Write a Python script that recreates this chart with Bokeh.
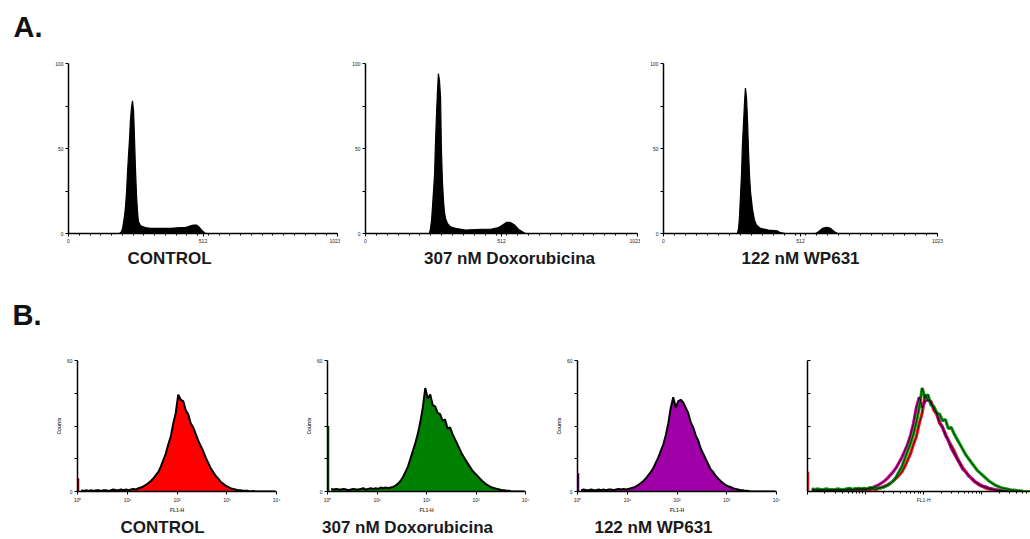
from bokeh.plotting import figure
from bokeh.layouts import column, row
from bokeh.models import FixedTicker, Range1d
from bokeh.core.properties import value
from bokeh.embed import file_html
from bokeh.resources import INLINE

FONT = "Liberation Sans"

# ---------------- Panel A: DNA content histograms (channel 0-1000, % of axis) -------------
a_titles = ["CONTROL", "307 nM Doxorubicina", "122 nM WP631"]
a_label_px = [169, 509, 800]

a1_ch = [190, 197, 201, 204, 208, 212, 216, 219, 223, 227, 230, 234, 238, 242, 245, 249,
         253, 257, 260, 268, 286, 305, 342, 379, 416, 435, 454, 465, 476, 487, 498, 509]
a1_cnt = [0, 1, 3, 6, 10, 16, 25, 35, 46, 56, 66, 74, 78, 72, 58, 38,
          22, 12, 7, 4.5, 3.5, 3, 3, 3, 3.5, 3.5, 4.5, 5, 5, 3.5, 1.5, 0]

a2_ch = [235, 239, 243, 246, 250, 254, 257, 261, 265, 268, 272, 276, 279, 283, 287, 290,
         294, 301, 312, 331, 368, 423, 460, 489, 504, 518, 533, 548, 562, 577, 588]
a2_cnt = [0, 3, 8, 15, 25, 35, 52, 70, 85, 94, 90, 80, 50, 30, 19, 13,
          9, 6, 4, 3, 2, 2.5, 2.5, 3.5, 5, 6.5, 6.5, 5, 2.5, 1, 0]

a3_ch = [270, 274, 277, 281, 285, 288, 292, 296, 299, 303, 307, 310, 314, 318, 325, 332,
         339, 354, 383, 416, 427, 445, 555, 566, 580, 595, 610, 624, 635]
a3_cnt = [0, 3, 9, 22, 36, 52, 65, 78, 85.5, 80, 65, 50, 34, 24, 14, 8,
          5, 3, 2, 1.5, 0.5, 0, 0, 1, 3, 3.7, 3, 1, 0]

# ---------------- Panel B: log-scale fluorescence histograms (bins of 0.05 decade) --------
b_titles = ["CONTROL", "307 nM Doxorubicina", "122 nM WP631"]
b_label_px = [162, 407, 653]
b_colors = ["#ff0000", "#008000", "#a000a8"]
b_overlay_colors = ["#ff1a1a", "#14a014", "#d0009c"]
BIN_W = 0.05  # decade per bin, 80 bins from 10^0 to 10^4

b_control = [10, 1, 0.5, 1, 0.5, 1, 0.5, 1, 1, 0.5,
             1, 1, 0.5, 1, 1.5, 1, 1, 1.5, 1, 1.5,
             1, 1.5, 2, 1.5, 2.5, 3, 4, 5, 6.5, 8,
             10, 12.5, 15, 19, 24, 29, 36, 42, 52, 60,
             74, 70, 69, 62, 59, 52, 49, 44, 39, 35,
             31, 26, 22, 18, 15, 12, 10, 7.5, 6, 4.5,
             3.5, 2.5, 2, 1.5, 1, 1, 0.5, 0.5, 0.5, 0,
             0.5, 0, 0, 0, 0, 0, 0, 0, 0, 0]

b_doxo = [50, 2, 1.5, 2, 1.5, 1.5, 2, 1.5, 1, 1.5,
          2, 1.5, 1.5, 2, 2.5, 1.5, 2, 2.5, 2, 2.5,
          2, 3, 2.5, 3, 2.5, 3, 3.5, 4.5, 6, 8,
          11, 15, 19, 25, 31, 37, 44, 53, 64, 79,
          71, 74, 66, 65, 60, 59, 54, 55, 48, 49,
          44, 40, 36, 32, 28, 25, 22, 19, 16, 14,
          12, 10, 8, 6.5, 5, 4, 3, 2.5, 2, 1.5,
          1, 1, 0.5, 0.5, 0, 0, 0, 0, 0, 0]

b_wp631 = [14, 1, 1.5, 1, 1, 1.5, 1, 1, 1.5, 1,
           1.5, 1, 1.5, 1.5, 1, 1.5, 2, 1.5, 2, 1.5,
           2, 2.5, 3, 4, 5, 6.5, 8, 10, 12.5, 15,
           18, 22, 26, 31, 36, 43, 52, 64, 72, 64,
           69, 70, 68, 64, 60, 53, 49, 43, 39, 33,
           29, 25, 21, 17, 15, 12, 10, 8, 6.5, 5,
           4, 3.5, 2.5, 2, 1.5, 1, 1, 0.5, 0.5, 0,
           0, 0, 0, 0, 0, 0, 0, 0, 0, 0]

b_series = [b_control, b_doxo, b_wp631]
W = 1030


def base_style(p):
    p.xgrid.visible = False
    p.ygrid.visible = False
    p.outline_line_color = None
    p.background_fill_color = "white"
    p.border_fill_color = "white"
    for ax in (p.xaxis[0], p.yaxis[0]):
        ax.axis_line_color = "black"
        ax.axis_line_width = 1.5
        ax.major_tick_line_color = "black"
        ax.minor_tick_line_color = "black"
        ax.major_label_text_font = FONT
        ax.major_label_text_font_size = "5px"
        ax.major_label_text_color = "#222222"
        ax.major_label_standoff = 2
        ax.major_tick_in = 0
        ax.major_tick_out = 3
        ax.minor_tick_in = 0
        ax.minor_tick_out = 0
        ax.axis_label_text_font = FONT
        ax.axis_label_text_font_size = "5px"
        ax.axis_label_text_font_style = "bold"
        ax.axis_label_standoff = 2


def strip(h):
    p = figure(width=W, height=h, x_range=Range1d(0, W), y_range=Range1d(0, h),
               x_axis_location=None, y_axis_location=None, min_border=0,
               output_backend="svg", toolbar_location=None)
    p.xgrid.visible = False
    p.ygrid.visible = False
    p.outline_line_color = None
    return p


def add_letter(p, text, x, y):
    p.text(x=[x], y=[y], text=[text], text_font=value(FONT), text_font_size=value("29px"),
           text_font_style="bold", text_align="left", text_baseline="middle",
           text_color="#111111")


def add_titles(p, xs, y, titles):
    p.text(x=xs, y=[y] * len(xs), text=titles, text_font=value(FONT),
           text_font_size=value("17px"), text_font_style="bold", text_align="center",
           text_baseline="middle", text_color="#1a1a1a")


def panel_a(ch, cnt, width, left, right):
    p = figure(width=width, height=200, x_range=Range1d(0, 1000), y_range=Range1d(0, 100),
               min_border_left=left, min_border_right=right, min_border_top=15,
               min_border_bottom=15, output_backend="svg", toolbar_location=None)
    base_style(p)
    p.xaxis.ticker = FixedTicker(ticks=[0, 500, 1000], minor_ticks=list(range(0, 1001, 40)))
    p.xaxis.minor_tick_out = 2
    p.xaxis.major_label_overrides = {0: "0", 500: "512", 1000: "1023"}
    p.yaxis.ticker = FixedTicker(ticks=[0, 25, 50, 75, 100])
    p.yaxis.major_label_overrides = {0: "0", 25: "", 50: "50", 75: "", 100: "100"}
    p.varea(x=ch, y1=0, y2=cnt, fill_color="black")
    p.line(ch, cnt, line_color="black", line_width=1.2)
    return p


def centers(n, start=1):
    return [10 ** ((i + 0.5) * BIN_W) for i in range(start, n)]


def log_ticker():
    minors = [m * 10 ** d for d in range(4) for m in range(2, 10)]
    return FixedTicker(ticks=[1, 10, 100, 1000, 10000], minor_ticks=minors)


sup = {1: "10\u2070", 10: "10\u00b9", 100: "10\u00b2", 1000: "10\u00b3", 10000: "10\u2074"}


def panel_b(values, color, width, left, right):
    p = figure(width=width, height=180, x_axis_type="log", x_range=Range1d(1, 10000),
               y_range=Range1d(0, 100), min_border_left=left, min_border_right=right,
               min_border_top=23, min_border_bottom=18, output_backend="svg",
               toolbar_location=None)
    base_style(p)
    p.xaxis.ticker = log_ticker()
    p.xaxis.major_label_overrides = sup
    p.xaxis.axis_label = "FL1-H"
    p.xaxis.axis_label_standoff = 1
    p.yaxis.ticker = FixedTicker(ticks=[0, 25, 50, 75, 100])
    p.yaxis.major_label_overrides = {0: "0", 25: "", 50: "", 75: "", 100: "60"}
    p.yaxis.axis_label = "Counts"
    xs = centers(len(values))
    ys = values[1:]
    p.varea(x=xs, y1=0, y2=ys, fill_color=color)
    p.line(xs, ys, line_color="black", line_width=2)
    # events piled in the first channel
    p.segment(x0=[1.04], y0=[0], x1=[1.04], y1=[values[0]], line_color=color, line_width=2)
    p.segment(x0=[1.04], y0=[0], x1=[1.04], y1=[values[0]], line_color="black",
              line_width=0.6)
    return p


def panel_overlay(width, left, right):
    p = figure(width=width, height=180, x_axis_type="log", x_range=Range1d(1, 10 ** 3.84),
               y_range=Range1d(0, 100), min_border_left=left, min_border_right=right,
               min_border_top=25, min_border_bottom=12, output_backend="svg",
               toolbar_location=None)
    base_style(p)
    p.xaxis.ticker = log_ticker()
    p.xaxis.minor_tick_out = 2
    p.xaxis.major_label_overrides = {1: "", 10: "", 100: "FL1-H", 1000: "", 10000: ""}
    p.yaxis.ticker = FixedTicker(ticks=[0, 25, 50, 75, 100])
    p.yaxis.major_tick_out = 0
    p.yaxis.major_tick_in = 3
    p.yaxis.major_label_overrides = {0: "", 25: "", 50: "", 75: "", 100: ""}
    red_vals, green_vals, mag_vals = b_control, b_doxo, b_wp631
    p.segment(x0=[1.03], y0=[0], x1=[1.03], y1=[red_vals[0] * 1.5],
              line_color=b_overlay_colors[0], line_width=2)
    for vals, col in ((red_vals, b_overlay_colors[0]), (mag_vals, b_overlay_colors[2]),
                      (green_vals, b_overlay_colors[1])):
        p.line(centers(len(vals)), vals[1:], line_color=col, line_width=3.2)
    for vals in (red_vals, mag_vals, green_vals):
        p.line(centers(len(vals)), vals[1:], line_color="black", line_width=1,
               line_alpha=0.7)
    return p


# header with "A."
headA = strip(48)
add_letter(headA, "A.", 13, 22)

a1 = panel_a(a1_ch, a1_cnt, 340, 68, 3)
a2 = panel_a(a2_ch, a2_cnt, 300, 25, 3)
a3 = panel_a(a3_ch, a3_cnt, 390, 23, 93)

# strip with panel-A titles and "B."
midStrip = strip(87)
add_titles(midStrip, a_label_px, 77, a_titles)
add_letter(midStrip, "B.", 12, 21)

b1 = panel_b(b_control, b_colors[0], 300, 77, 24)
b2 = panel_b(b_doxo, b_colors[1], 252, 27, 27)
b3 = panel_b(b_wp631, b_colors[2], 238, 25, 14)
b4 = panel_overlay(240, 17, 0)

botStrip = strip(24)
add_titles(botStrip, b_label_px, 12, b_titles)

layout = column(headA, row(a1, a2, a3), midStrip, row(b1, b2, b3, b4), botStrip)

open("out.html", "w").write(file_html(layout, INLINE))
